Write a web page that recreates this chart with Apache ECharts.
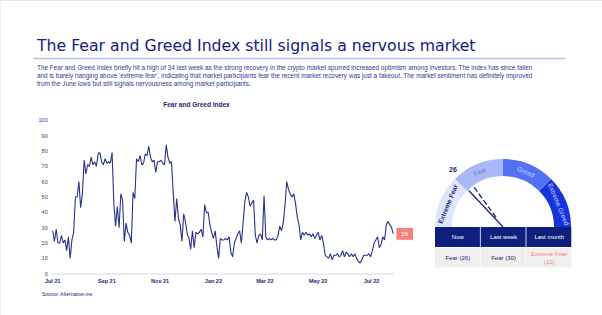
<!DOCTYPE html>
<html>
<head>
<meta charset="utf-8">
<script src="https://cdn.jsdelivr.net/npm/echarts@6/dist/echarts.min.js"></script>
<style>
html, body { margin: 0; padding: 0; background: #fff; }
#main { width: 602px; height: 315px; }
</style>
</head>
<body>
<div id="main"></div>
<script>
// index reading every 2 days, starting 1 Jul 2021 (day 0)
var stepDays = 2;
var fgValues = [
    28, 21, 29, 20, 20, 25, 20, 22, 15, 24,
    10, 22, 27, 50, 50, 60, 43, 52, 74, 65,
    71, 70, 76, 71, 73, 70, 78, 79, 73, 71,
    75, 72, 73, 72, 79, 46, 31, 44, 30, 52,
    48, 21, 33, 27, 25, 20, 53, 49, 75, 73,
    77, 71, 72, 78, 77, 83, 76, 73, 74, 66,
    73, 73, 74, 72, 71, 84, 76, 72, 73, 53,
    34, 49, 36, 32, 21, 39, 34, 26, 23, 16,
    28, 17, 27, 26, 27, 29, 24, 45, 40, 40,
    32, 27, 23, 28, 18, 10, 23, 22, 22, 23,
    22, 24, 14, 11, 20, 23, 26, 28, 20, 33,
    47, 53, 50, 44, 46, 48, 25, 20, 25, 26,
    22, 51, 24, 22, 23, 22, 23, 22, 22, 25,
    31, 28, 33, 45, 60, 55, 52, 50, 52, 46,
    37, 32, 22, 27, 25, 27, 25, 26, 24, 26,
    23, 25, 27, 22, 25, 20, 12, 11, 10, 13,
    9, 12, 12, 13, 11, 12, 15, 11, 14, 13,
    11, 13, 11, 13, 10, 8, 7, 9, 12, 12,
    12, 13, 11, 15, 20, 22, 24, 17, 19, 24,
    22, 32, 34, 32, 30,
    26
];
// day offsets of the month labels
var tickDays = [0, 62, 123, 184, 243, 304, 365];
var tickLabels = ['Jul 21', 'Sep 21', 'Nov 21', 'Jan 22', 'Mar 22', 'May 22', 'Jul 22'];

var zoneNames = ['Extreme Fear', 'Fear', 'Greed', 'Extreme Greed'];
var zoneMids = [12.5, 37.5, 62.5, 87.5];
var nowValue = 26;
var lastWeekValue = 30;
var tableHeaders = ['Now', 'Last week', 'Last month'];
var tableCells = ['Fear (26)', 'Fear (30)', 'Extreme Fear\n(12)'];

var titleText = 'The Fear and Greed Index still signals a nervous market';
var bodyText = 'The Fear and Greed Index briefly hit a high of 34 last week as the strong recovery in the crypto market spurred increased optimism among investors. The index has since fallen\n' +
    'and is barely hanging above \u2018extreme fear\u2019, indicating that market participants fear the recent market recovery was just a fakeout. The market sentiment has definitely improved\n' +
    'from the June lows but still signals nervousness among market participants.';

var navy = '#1b2677';
var salmon = '#f4847b';
var chart = echarts.init(document.getElementById('main'), null, { renderer: 'svg' });

var lineData = fgValues.map(function (v, i) {
    return [i * stepDays, v];
});

// table cells
var tableEls = [];
var cellW = 45.7;
for (var i = 0; i < tableHeaders.length; i++) {
    var x0 = 435 + i * cellW;
    tableEls.push({ type: 'rect', shape: { x: x0, y: 227, width: cellW - 0.8, height: 20 }, style: { fill: '#0e1f7c' } });
    tableEls.push({ type: 'rect', shape: { x: x0, y: 248, width: cellW - 0.8, height: 19.5 }, style: { fill: '#efefef' } });
    tableEls.push({
        type: 'text', x: x0 + cellW / 2, y: 237,
        style: { text: tableHeaders[i], fill: '#ffffff', fontSize: 6, fontFamily: 'Liberation Sans', align: 'center', verticalAlign: 'middle' }
    });
    tableEls.push({
        type: 'text', x: x0 + cellW / 2, y: 257.8,
        style: {
            text: tableCells[i], fill: tableCells[i].indexOf('Extreme') >= 0 ? salmon : navy,
            fontSize: 6, lineHeight: 7.5, fontFamily: 'Liberation Sans', align: 'center', verticalAlign: 'middle'
        }
    });
}

var option = {
    animation: false,
    grid: { left: 52.7, right: 208.7, top: 120.3, bottom: 41.3 },
    xAxis: {
        type: 'value',
        min: 0,
        max: 390,
        splitLine: { show: false },
        axisLine: { show: true, lineStyle: { color: '#dfe4f8', width: 1.5 } },
        axisTick: { show: true, customValues: tickDays, length: 2, lineStyle: { color: '#dfe4f8' } },
        axisLabel: {
            customValues: tickDays,
            formatter: function (v) {
                var k = tickDays.indexOf(v);
                return k < 0 ? '' : tickLabels[k];
            },
            color: navy, fontSize: 5.5, fontWeight: 'bold', fontFamily: 'Liberation Sans', margin: 4
        }
    },
    yAxis: {
        type: 'value',
        min: 0,
        max: 100,
        interval: 10,
        splitLine: { show: false },
        axisLine: { show: false },
        axisTick: { show: false },
        axisLabel: { color: '#2f3b7a', fontSize: 5.5, fontFamily: 'Liberation Sans', margin: 5 }
    },
    series: [
        {
            type: 'line',
            data: lineData,
            symbol: 'none',
            lineStyle: { color: '#27338a', width: 1.1 },
            endLabel: {
                show: true,
                formatter: function (p) { return p.value[1]; },
                backgroundColor: salmon,
                color: '#ffffff',
                fontSize: 6,
                fontFamily: 'Liberation Sans',
                padding: [3, 5],
                distance: 3
            }
        },
        {
            type: 'gauge',
            center: [503, 227],
            radius: 68,
            startAngle: 180,
            endAngle: 0,
            min: 0,
            max: 100,
            splitNumber: 8,
            axisLine: {
                lineStyle: {
                    width: 17,
                    color: [[0.25, '#dfe5fa'], [0.5, '#a9b8f6'], [0.75, '#5272f5'], [1, '#1634dc']]
                }
            },
            axisTick: { show: false },
            splitLine: { show: false, length: 0, distance: 0 },
            axisLabel: {
                distance: 8,
                rotate: 'tangential',
                fontSize: 6.6,
                fontFamily: 'Liberation Sans',
                formatter: function (v) {
                    var k = zoneMids.indexOf(v);
                    return k < 0 ? '' : '{z' + k + '|' + zoneNames[k] + '}';
                },
                rich: {
                    z0: { color: navy, fontWeight: 'bold', fontSize: 6.6 },
                    z1: { color: '#6f82d2', fontSize: 6.6 },
                    z2: { color: '#c8d2ff', fontSize: 6.6 },
                    z3: { color: '#c8d2ff', fontSize: 6.6 }
                }
            },
            pointer: { icon: 'rect', width: 1.3, length: 50, itemStyle: { color: '#1d2a78' } },
            anchor: { show: false },
            title: { show: false },
            detail: {
                offsetCenter: [-50, -58],
                formatter: '{value}',
                fontSize: 7,
                fontWeight: 'bold',
                fontFamily: 'Liberation Sans',
                color: navy
            },
            data: [{ value: nowValue }]
        },
        {
            type: 'gauge',
            center: [503, 227],
            radius: 68,
            startAngle: 180,
            endAngle: 0,
            min: 0,
            max: 100,
            axisLine: { show: false },
            axisTick: { show: false },
            splitLine: { show: false },
            axisLabel: { show: false },
            pointer: {
                icon: 'path://M0 0h2v6h-2zM0 9h2v6h-2zM0 18h2v6h-2zM0 27h2v6h-2zM0 36h2v6h-2z',
                width: 1.4,
                length: 37,
                offsetCenter: [0, -12],
                itemStyle: { color: '#1d2a78' }
            },
            anchor: { show: false },
            title: { show: false },
            detail: { show: false },
            data: [{ value: lastWeekValue }]
        }
    ],
    graphic: [
        { type: 'line', shape: { x1: 0, y1: 0.5, x2: 602, y2: 0.5 }, style: { stroke: '#e6e6e6', lineWidth: 1 } },
        { type: 'line', shape: { x1: 0.5, y1: 0, x2: 0.5, y2: 315 }, style: { stroke: '#eeeeee', lineWidth: 1 } },
        {
            type: 'text', x: 37, y: 37.5,
            style: { text: titleText, fill: '#14207a', fontSize: 15.7, fontFamily: 'DejaVu Sans' }
        },
        { type: 'line', shape: { x1: 33, y1: 58.5, x2: 565, y2: 58.5 }, style: { stroke: '#b9c3ea', lineWidth: 1.6 } },
        {
            type: 'text', x: 37, y: 63.5,
            style: { text: bodyText, fill: '#2e3d8f', fontSize: 6.4, lineHeight: 8, fontFamily: 'Liberation Sans' }
        },
        {
            type: 'text', x: 196.5, y: 104,
            style: { text: 'Fear and Greed Index', fill: navy, fontSize: 6.5, fontWeight: 'bold', fontFamily: 'Liberation Sans', align: 'center', verticalAlign: 'middle' }
        },
        {
            type: 'text', x: 42, y: 291.5,
            style: { text: 'Source: Alternative.me', fill: navy, fontSize: 5, fontFamily: 'Liberation Sans' }
        }
    ].concat(tableEls)
};

chart.setOption(option);
</script>
</body>
</html>
